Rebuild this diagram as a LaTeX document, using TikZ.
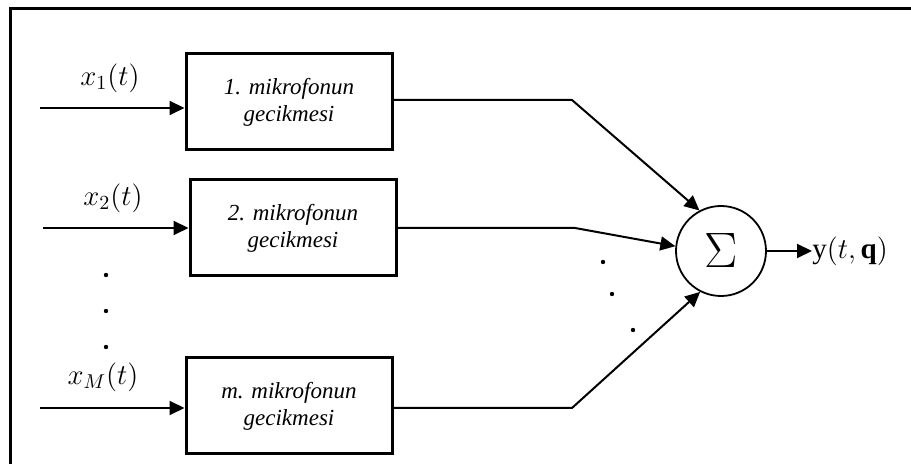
\documentclass[tikz,border=0pt]{standalone}
\usepackage{amsmath}
\usepackage{fontspec}
\setmainfont{Liberation Serif}
\usepackage{tikz}
\usetikzlibrary{positioning,calc,arrows.meta}

\begin{document}
\begin{tikzpicture}[
  x=0.5pt,y=-0.5pt,
  every node/.style={align=center},
  delay/.style={rectangle,draw,line width=1.5pt,minimum width=103pt,minimum height=48pt,inner sep=0pt,
    font=\fontsize{11.5}{13.5}\selectfont\itshape},
  summer/.style={circle,draw,line width=0.9pt,minimum size=45pt,inner sep=0pt},
  sig/.style={font=\fontsize{14.5}{16}\selectfont,inner sep=0pt},
  link/.style={line width=1pt,-{Triangle[length=7.5pt,width=7pt]}},
  dotmark/.style={fill=black}
]
\useasboundingbox (0,0) rectangle (911,464);
\draw[line width=1.5pt] (10,470) -- (10,9) -- (920,9);

% delay blocks
\node[delay] (b1) at (289,102) {1. mikrofonun\\gecikmesi};
\node[delay] (b2) at (293,228) {2. mikrofonun\\gecikmesi};
\node[delay] (bm) at (289,406) {m. mikrofonun\\gecikmesi};

% summing junction
\node[summer] (sum) at (721,251) {\fontsize{27}{28}\selectfont$\Sigma$};
\node[sig,anchor=west] (yout) at (812,251) {$\mathrm{y}(t,\mathbf{q})$};

% inputs
\node[sig] (lx1) at (110,78) {$x_1(t)$};
\node[sig] (lx2) at (113,198) {$x_2(t)$};
\node[sig] (lxm) at (103,377) {$x_M(t)$};
\coordinate (in1) at (40,108);
\coordinate (in2) at (43,228);
\coordinate (inm) at (40,408);

\draw[link] (in1) -- (in1 -| b1.west);
\draw[link] (in2) -- (in2 -| b2.west);
\draw[link] (inm) -- (inm -| bm.west);

% bends towards the sum
\coordinate (k1) at (572,100);
\coordinate (k2) at (575,228);
\coordinate (km) at (572,408);

\draw[link] (b1.east |- k1) -- (k1) -- (sum.118);
\draw[link] (b2.east |- k2) -- (k2) -- (sum.174);
\draw[link] (bm.east |- km) -- (km) -- (sum.243);
\draw[link] (sum.east) -- (yout.west);

% ellipsis dots
\foreach \px/\py in {106/275,106/311,106/347,603/262,612/294,633/330}
  \fill[dotmark] (\px,\py) circle (1.1pt);
\end{tikzpicture}
\end{document}
